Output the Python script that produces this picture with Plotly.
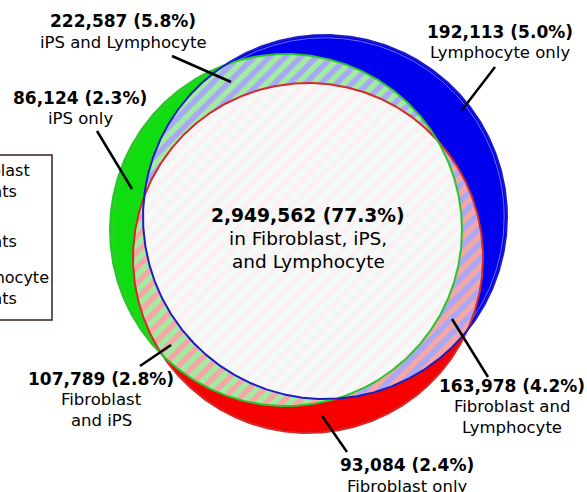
import numpy as np
import plotly.graph_objects as go

# ---------------- data ----------------
region_names = [
    ["iPS and Lymphocyte"],
    ["iPS only"],
    ["Lymphocyte only"],
    ["in Fibroblast, iPS,", "and Lymphocyte"],
    ["Fibroblast", "and iPS"],
    ["Fibroblast and", "Lymphocyte"],
    ["Fibroblast only"],
]
region_counts = [222587, 86124, 192113, 2949562, 107789, 163978, 93084]
region_pcts = [5.8, 2.3, 5.0, 77.3, 2.8, 4.2, 2.4]

set_names = ["Fibroblast", "iPS", "Lymphocyte"]
legend_second_line = "variants"

# ---------------- layout geometry (page pixels) ----------------
W, H = 587, 492

circles = {
    "iPS": (286, 230, 176),
    "Lymphocyte": (325, 217, 182),
    "Fibroblast": (308, 258, 175),
}
solid = {"iPS": "#10dd10", "Lymphocyte": "#0000ee", "Fibroblast": "#f80000"}
inner = {"iPS": "#3cc83c", "Lymphocyte": "#6a6aff", "Fibroblast": "#d81010"}
edge = {"iPS": "#2cc42c", "Lymphocyte": "#1c1cc8", "Fibroblast": "#d42a2a"}
light = {"iPS": "#a2eca2", "Lymphocyte": "#a8a8f4", "Fibroblast": "#f6a6a6"}

# label layout: x centre, y of each line, bold size, regular size, leader line
label_layout = [
    (123, [21, 42], 17, 16.5, (172, 56, 231, 82)),
    (80, [98, 118], 17, 16.5, (97, 131, 132, 189)),
    (500, [32, 52], 17, 16.5, (495, 67, 462, 110)),
    (308, [215, 238, 261], 18.7, 18.5, None),
    (101, [379, 399, 420], 17, 16.5, (140, 366, 171, 345)),
    (512, [386, 406, 427], 17, 16.5, (452, 319, 488, 377)),
    (407, [465, 486], 17, 16.5, (322, 416, 347, 452)),
]
legend_mid_y = [181, 231, 288]


def circle_pts(c, n=720, dr=0.0):
    cx, cy, r = c
    r = r - dr
    t = np.linspace(0, 2 * np.pi, n, endpoint=False)
    return [(cx + r * np.cos(a), cy + r * np.sin(a)) for a in t]


def clip(subject, clipper):
    def inside(p, a, b):
        return (b[0] - a[0]) * (p[1] - a[1]) - (b[1] - a[1]) * (p[0] - a[0]) >= 0

    def inter(s, e, a, b):
        dc = (a[0] - b[0], a[1] - b[1])
        dp = (s[0] - e[0], s[1] - e[1])
        n1 = a[0] * b[1] - a[1] * b[0]
        n2 = s[0] * e[1] - s[1] * e[0]
        den = dc[0] * dp[1] - dc[1] * dp[0]
        return ((n1 * dp[0] - n2 * dc[0]) / den, (n1 * dp[1] - n2 * dc[1]) / den)

    out = subject
    for i in range(len(clipper)):
        a, b = clipper[i - 1], clipper[i]
        inp, out = out, []
        if not inp:
            break
        s = inp[-1]
        for e in inp:
            if inside(e, a, b):
                if not inside(s, a, b):
                    out.append(inter(s, e, a, b))
                out.append(e)
            elif inside(s, a, b):
                out.append(inter(s, e, a, b))
            s = e
    return out


def closed(pts):
    xs = [p[0] for p in pts] + [pts[0][0]]
    ys = [p[1] for p in pts] + [pts[0][1]]
    return xs, ys


def px(x):
    return x / W


def py(y):
    return 1 - y / H


fig = go.Figure()
poly = {k: circle_pts(v) for k, v in circles.items()}

# solid circles
for k in ["iPS", "Lymphocyte", "Fibroblast"]:
    xs, ys = closed(poly[k])
    fig.add_trace(go.Scatter(x=xs, y=ys, mode="lines", fill="toself",
                             fillcolor=solid[k], line=dict(width=0),
                             hoverinfo="skip", showlegend=False))
# thin inner rim lines on the solid parts
for k in ["iPS", "Lymphocyte", "Fibroblast"]:
    xs, ys = closed(circle_pts(circles[k], dr=2.8))
    fig.add_trace(go.Scatter(x=xs, y=ys, mode="lines",
                             line=dict(color=inner[k], width=1),
                             hoverinfo="skip", showlegend=False))

# pairwise lenses (hatched)
pairs = [("iPS", "Lymphocyte"), ("iPS", "Fibroblast"), ("Lymphocyte", "Fibroblast")]
for a, b in pairs:
    pts = clip(poly[a], poly[b])
    xs, ys = closed(pts)
    fig.add_trace(go.Scatter(
        x=xs, y=ys, mode="lines", fill="toself", line=dict(width=0),
        fillcolor=light[a],
        fillpattern=dict(shape="/", bgcolor=light[a], fgcolor=light[b],
                         fgopacity=1, size=11, solidity=0.5),
        hoverinfo="skip", showlegend=False))

# triple intersection
pts = clip(clip(poly["iPS"], poly["Lymphocyte"]), poly["Fibroblast"])
xs, ys = closed(pts)
fig.add_trace(go.Scatter(
    x=xs, y=ys, mode="lines", fill="toself", line=dict(width=0),
    fillcolor="#f7f7fa",
    fillpattern=dict(shape="/", bgcolor="#f3fbf4", fgcolor="#faf0f6",
                     fgopacity=1, size=11, solidity=0.5),
    hoverinfo="skip", showlegend=False))

# outlines
for k in ["Fibroblast", "iPS", "Lymphocyte"]:
    xs, ys = closed(poly[k])
    fig.add_trace(go.Scatter(x=xs, y=ys, mode="lines",
                             line=dict(color=edge[k], width=2),
                             hoverinfo="skip", showlegend=False))

# leader lines
for lay in label_layout:
    seg = lay[4]
    if seg is None:
        continue
    x0, y0, x1, y1 = seg
    fig.add_trace(go.Scatter(x=[x0, x1], y=[y0, y1], mode="lines",
                             line=dict(color="black", width=2.5),
                             hoverinfo="skip", showlegend=False))

annotations = []
for names, cnt, pct, lay in zip(region_names, region_counts, region_pcts, label_layout):
    lx, ys_, fb, fr = lay[0], lay[1], lay[2], lay[3]
    lines = [(f"<b>{cnt:,} ({pct:.1f}%)</b>", fb)] + [(n, fr) for n in names]
    for (txt, fs), ly in zip(lines, ys_):
        annotations.append(dict(
            x=lx, y=ly, xref="x", yref="y", showarrow=False,
            xanchor="center", yanchor="middle", align="center", text=txt,
            font=dict(family="DejaVu Sans", size=fs, color="black")))

# legend box (mostly off-canvas on the left)
for name, ly in zip(set_names, legend_mid_y):
    annotations.append(dict(
        x=px(-50), y=py(ly), xref="paper", yref="paper", showarrow=False,
        xanchor="left", yanchor="middle", align="left",
        text=f"{name}<br>{legend_second_line}",
        font=dict(family="DejaVu Sans", size=16, color="black")))

shapes = [dict(type="rect", xref="paper", yref="paper",
               x0=px(-120), x1=px(52), y0=py(320), y1=py(155),
               line=dict(color="#3c1c1c", width=1.5), fillcolor="rgba(0,0,0,0)")]

fig.update_layout(
    width=W, height=H, margin=dict(l=0, r=0, t=0, b=0, autoexpand=False),
    paper_bgcolor="white", plot_bgcolor="white",
    xaxis=dict(range=[0, W], visible=False, fixedrange=True),
    yaxis=dict(range=[H, 0], visible=False, fixedrange=True),
    annotations=annotations, shapes=shapes, showlegend=False,
)

fig.write_html(
    "out.html",
    config={"displayModeBar": False},
    post_script="document.body.style.margin='0px';"
                "document.body.style.overflow='hidden';",
)
